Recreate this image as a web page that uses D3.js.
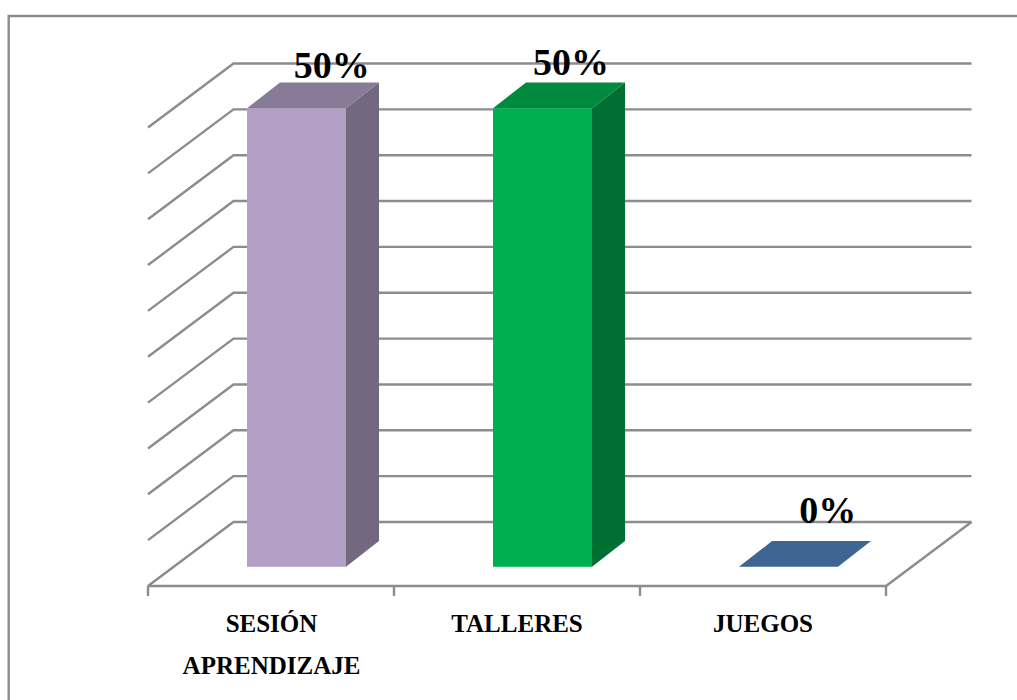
<!DOCTYPE html>
<html><head><meta charset="utf-8">
<script src="https://cdn.jsdelivr.net/npm/d3@7"></script>
<style>html,body{margin:0;padding:0;background:#fff}svg{display:block}</style>
</head><body><svg id="c" width="1017" height="700"></svg>
<script>
const categories = ["SESIÓN APRENDIZAJE", "TALLERES", "JUEGOS"];
const labelLines = [["SESIÓN", "APRENDIZAJE"], ["TALLERES"], ["JUEGOS"]];
const values = [0.5, 0.5, 0];
const valueLabels = ["50%", "50%", "0%"];
const frontColors = ["#b2a0c7", "#00b050", "#3f6593"];
const topColors = ["#887b98", "#008a3e", "#3f6593"];
const sideColors = ["#736880", "#006f32", "#3f6593"];
const yTicks = [0, .05, .1, .15, .2, .25, .3, .35, .4, .45, .5];

const svg = d3.select("#c");
const dx = 85.5, dy = -64;      // floor depth
const bdx = 33, bdy = -25.7;    // bar depth
const x = d3.scaleBand().domain(categories).range([148, 886]);
const y = d3.scaleLinear().domain([0, 0.5]).range([586, 127.5]);
const grid = "#8c8c8c";

// frame: top and left edges only, running off the picture
svg.append("path").attr("fill", "none").attr("stroke", grid).attr("stroke-width", 2.4)
  .attr("d", "M8.7,700V16H1017");

const g = svg.append("g").attr("fill", "none").attr("stroke", grid).attr("stroke-width", 2.4);
g.selectAll(".w").data(yTicks).join("path")
  .attr("d", t => `M148,${y(t)}L${148 + dx},${y(t) + dy}L${886 + dx},${y(t) + dy}`);
g.append("path").attr("d", `M148,${y(0)}L886,${y(0)}L${886 + dx},${y(0) + dy}`);
g.selectAll(".t").data(d3.range(4)).join("line")
  .attr("x1", i => 148 + i * x.step()).attr("x2", i => 148 + i * x.step())
  .attr("y1", y(0)).attr("y2", y(0) + 10);

const barW = 99, barInset = 99, floorLift = 19.2;
const labelDx = [183.7, 177, 187.7], labelDy = [5, 8, 18];
svg.append("g").selectAll("g").data(categories).join("g").each(function (d, i) {
  const s = d3.select(this), x0 = x(d) + barInset, x1 = x0 + barW;
  const b = y(0) - floorLift, t = y(values[i]) - floorLift;
  s.append("path").attr("fill", sideColors[i])
    .attr("d", `M${x1},${t}L${x1 + bdx},${t + bdy}L${x1 + bdx},${b + bdy}L${x1},${b}Z`);
  s.append("path").attr("fill", topColors[i])
    .attr("d", `M${x0},${t}L${x0 + bdx},${t + bdy}L${x1 + bdx},${t + bdy}L${x1},${t}Z`);
  s.append("rect").attr("fill", frontColors[i]).attr("x", x0).attr("y", t).attr("width", barW).attr("height", b - t);
  s.append("text").text(valueLabels[i]).attr("x", x(d) + labelDx[i]).attr("y", t + bdy - labelDy[i])
    .attr("text-anchor", "middle").attr("font-family", "Liberation Serif").attr("font-weight", "bold")
    .attr("font-size", 38).attr("fill", "#000");
});

const tx = [271.5, 517, 763];
svg.append("g").selectAll("text").data(labelLines).join("text")
  .attr("font-family", "Liberation Serif").attr("font-weight", "bold").attr("font-size", 25).attr("fill", "#000")
  .attr("text-anchor", "middle")
  .each(function (lines, i) {
    d3.select(this).selectAll("tspan").data(lines).join("tspan")
      .attr("x", tx[i]).attr("y", (l, k) => 632 + k * 41.5).text(l => l);
  });
</script></body></html>
